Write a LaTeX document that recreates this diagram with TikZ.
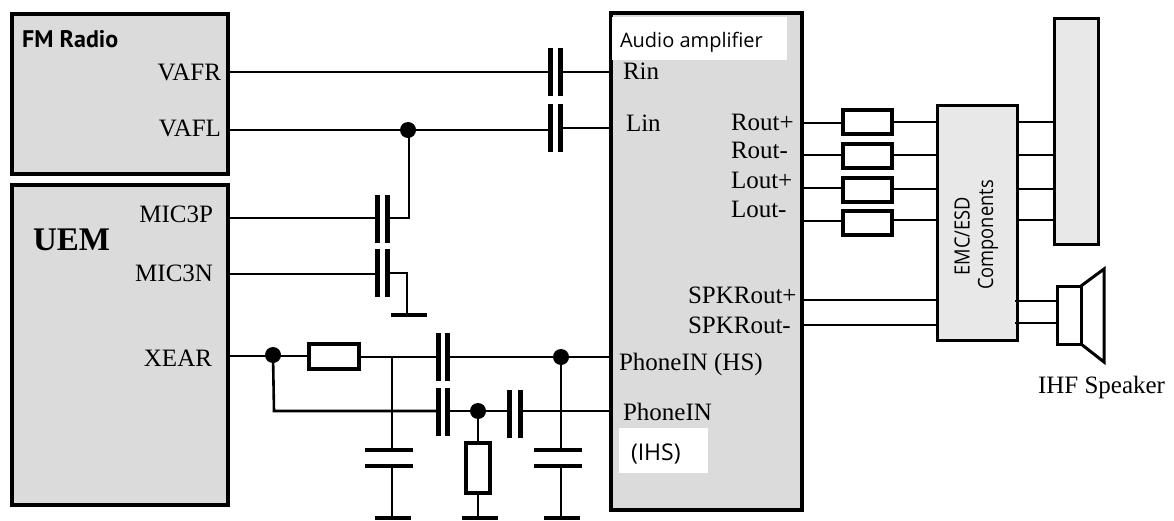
\documentclass[tikz,border=0pt]{standalone}
\usepackage{fontspec}
\setmainfont{Liberation Serif}
\newfontfamily\uisans{Open Sans}
\newfontfamily\uinarrow[FakeStretch=0.87]{Open Sans}
\newfontfamily\uibold{PT Sans}
\tikzset{
  block/.style={draw=black,line width=4pt,fill=black!14,inner sep=0pt,outer sep=0pt,anchor=north west},
  thinblock/.style={draw=black,line width=3pt,fill=black!9,inner sep=0pt,outer sep=0pt,anchor=north west},
  res/.style={draw=black,line width=4pt,fill=white,inner sep=0pt,outer sep=0pt},
  plate/.style={fill=black,draw=none,inner sep=0pt,outer sep=0pt,minimum width=5pt,minimum height=48pt},
  hplate/.style={fill=black,draw=none,inner sep=0pt,outer sep=0pt,minimum width=48pt,minimum height=4pt},
  gnd/.style={fill=black,draw=none,inner sep=0pt,outer sep=0pt,minimum width=36pt,minimum height=4pt},
  dotn/.style={circle,fill=black,draw=none,inner sep=0pt,outer sep=0pt,minimum size=16pt},
  wire/.style={draw=black,line width=2.6pt},
  lab/.style={inner sep=0pt,outer sep=0pt,font=\fontsize{25}{25}\selectfont,anchor=base west},
  labr/.style={lab,anchor=base east},
  whitebox/.style={fill=white,draw=none,inner sep=0pt,outer sep=0pt,anchor=north west},
  sans/.style={inner sep=0pt,outer sep=0pt,font=\fontsize{20}{20}\uisans\selectfont},
}
\begin{document}
\begin{tikzpicture}[x=1pt,y=-1pt]
\useasboundingbox (0,0) rectangle (1174,521);
% blocks
\node[block,minimum width=216pt,minimum height=160pt] (fm) at (12,14) {};
\node[block,minimum width=216pt,minimum height=320pt] (uem) at (12,185) {};
\node[block,minimum width=191pt,minimum height=497pt] (amp) at (611,13) {};
\node[whitebox,minimum width=175pt,minimum height=43pt] (ampw) at (612,17) {};
\node[whitebox,minimum width=89pt,minimum height=45pt] (ihsw) at (619,428) {};
\node[thinblock,minimum width=80pt,minimum height=234pt] (emc) at (937,106) {};
\node[thinblock,minimum width=44pt,minimum height=226pt] (conn) at (1054,19) {};
% labels
\node[inner sep=0pt,anchor=base west,font=\fontsize{24}{24}\uibold\bfseries\selectfont] (tfm) at (22,48) {FM Radio};
\node[labr] (tvafr) at (221,81) {VAFR};
\node[labr] (tvafl) at (221,137) {VAFL};
\node[labr] (tmp) at (213,223) {MIC3P};
\node[labr] (tmn) at (213,281) {MIC3N};
\node[labr] (txe) at (212,366) {XEAR};
\node[lab,font=\fontsize{33}{33}\selectfont\bfseries] (tuem) at (33,251) {UEM};
\node[sans,anchor=base west] (taud) at (620,48) {Audio amplifier};
\node[lab] (trin) at (623,80) {Rin};
\node[lab] (tlin) at (626,132) {Lin};
\node[lab] (tr1) at (731,131) {Rout+};
\node[lab] (tr2) at (731,159) {Rout-};
\node[lab] (tl1) at (731,189) {Lout+};
\node[lab] (tl2) at (731,218) {Lout-};
\node[lab] (tsp) at (688,303) {SPKRout+};
\node[lab] (tsn) at (688,333) {SPKRout-};
\node[lab] (tphs) at (619,370) {PhoneIN (HS)};
\node[lab] (tpih) at (623,420) {PhoneIN};
\node[sans,anchor=base west,font=\fontsize{23}{23}\uisans\selectfont] (tihs) at (631,460) {(IHS)};
\node[lab] (tihf) at (1038,393) {IHF Speaker};
\node[sans,rotate=90,font=\fontsize{21}{21}\uinarrow\selectfont] (temc) at (962,236) {EMC/ESD};
\node[sans,rotate=90,font=\fontsize{21}{21}\uinarrow\selectfont] (tcomp) at (988,235) {Components};
% coupling capacitors
\node[plate] (c1a) at (550,72) {}; \node[plate] (c1b) at (560,72) {};
\node[plate] (c2a) at (550,128) {}; \node[plate] (c2b) at (560,128) {};
\node[plate] (c3a) at (377,219) {}; \node[plate] (c3b) at (387,219) {};
\node[plate] (c4a) at (377,273) {}; \node[plate] (c4b) at (387,273) {};
\node[plate] (c5a) at (438,357) {}; \node[plate] (c5b) at (447,357) {};
\node[plate] (c6a) at (438,412) {}; \node[plate] (c6b) at (447,412) {};
\node[plate] (c7a) at (509,414) {}; \node[plate] (c7b) at (520,414) {};
% shunt capacitors
\node[hplate] (s1a) at (389,450) {}; \node[hplate] (s1b) at (389,466) {};
\node[hplate] (s2a) at (558,450) {}; \node[hplate] (s2b) at (558,466) {};
% grounds
\node[gnd] (g0) at (409,315) {};
\node[gnd] (g1) at (393,518) {};
\node[gnd] (g2) at (480,518) {};
\node[gnd] (g3) at (562,518) {};
% resistors
\node[res,minimum width=50pt,minimum height=25pt] (r0) at (334,356) {};
\node[res,minimum width=24pt,minimum height=50pt] (r1) at (478,468) {};
\node[res,minimum width=49pt,minimum height=24pt] (ra) at (867.5,122) {};
\node[res,minimum width=49pt,minimum height=24pt] (rb) at (867.5,156) {};
\node[res,minimum width=49pt,minimum height=24pt] (rc) at (867.5,190) {};
\node[res,minimum width=49pt,minimum height=24pt] (rd) at (867.5,223.5) {};
% junctions
\node[dotn] (j1) at (408,130) {};
\node[dotn] (j2) at (273,355) {};
\node[dotn] (j3) at (478,411) {};
\node[dotn] (j4) at (561,357) {};
% pins
\coordinate (pvafr) at (228,72); \coordinate (prin) at (611,72);
\coordinate (pvafl) at (228,130); \coordinate (plin) at (611,128);
\coordinate (pmp) at (228,218); \coordinate (pmn) at (228,274);
\coordinate (pxe) at (228,356); \coordinate (pph) at (611,357); \coordinate (ppi) at (611,411);
\coordinate (k1) at (409,218); \coordinate (k2) at (407,273);
\coordinate (k3) at (274,411); \coordinate (k4) at (392,357);
% wires
\draw[wire] (pvafr) -- (pvafr -| c1a.center);
\draw[wire] (prin -| c1b.center) -- (prin);
\draw[wire] (pvafl) -- (pvafl -| c2a.center);
\draw[wire] (plin -| c2b.center) -- (plin);
\draw[wire] (pmp) -- (pmp -| c3a.center);
\draw[wire] (k1 -| c3b.center) -- (k1) -- (k1 |- j1.center);
\draw[wire] (pmn) -- (pmn -| c4a.center);
\draw[wire] (k2 -| c4b.center) -- (k2) -- (k2 |- g0.center);
\draw[wire] (pxe) -- (r0.west);
\draw[wire] (pph -| r0.east) -- (pph -| c5a.center);
\draw[wire] (pph -| c5b.center) -- (pph);
\draw[wire] (j2.center) -- (k3) -- (k3 -| c6a.center);
\draw[wire] (k3 -| c6b.center) -- (k3 -| c7a.center);
\draw[wire] (ppi -| c7b.center) -- (ppi);
\draw[wire] (k4) -- (k4 |- s1a.center);
\draw[wire] (k4 |- s1b.center) -- (k4 |- g1.center);
\draw[wire] (j4.center) -- (j4 |- s2a.center);
\draw[wire] (j4 |- s2b.center) -- (j4 |- g3.center);
\draw[wire] (j3.center) -- (r1.north);
\draw[wire] (r1.south) -- (j3 |- g2.center);
% right side
\coordinate (a1) at (802,123); \coordinate (a2) at (802,155); \coordinate (a3) at (802,188); \coordinate (a4) at (802,221);
\coordinate (b1) at (1017,122); \coordinate (b2) at (1017,155); \coordinate (b3) at (1017,189); \coordinate (b4) at (1017,220);
\draw[wire] (a1) -- (a1 -| ra.west); \draw[wire] (b1 -| ra.east) -- (b1 -| emc.west);
\draw[wire] (a2) -- (a2 -| rb.west); \draw[wire] (b2 -| rb.east) -- (b2 -| emc.west);
\draw[wire] (a3) -- (a3 -| rc.west); \draw[wire] (b3 -| rc.east) -- (b3 -| emc.west);
\draw[wire] (a4) -- (a4 -| rd.west); \draw[wire] (b4 -| rd.east) -- (b4 -| emc.west);
\draw[wire] (b1) -- (b1 -| conn.west);
\draw[wire] (b2) -- (b2 -| conn.west);
\draw[wire] (b3) -- (b3 -| conn.west);
\draw[wire] (b4) -- (b4 -| conn.west);
\coordinate (d1) at (802,300); \coordinate (d2) at (802,325);
\draw[wire] (d1) -- (d1 -| emc.west);
\draw[wire] (d2) -- (d2 -| emc.west);
% speaker
\node[draw=black,line width=3pt,fill=white,inner sep=0pt,outer sep=0pt,minimum width=24pt,minimum height=58pt,anchor=north west] (spk) at (1057,286) {};
\draw[draw=black,line width=3pt,line join=miter] (spk.north east) -- (1104,269) -- (1104,362) -- (spk.south east);
\coordinate (e1) at (1015,301); \coordinate (e2) at (1015,323);
\draw[wire] (e1) -- (e1 -| spk.west);
\draw[wire] (e2) -- (e2 -| spk.west);
\end{tikzpicture}
\end{document}
